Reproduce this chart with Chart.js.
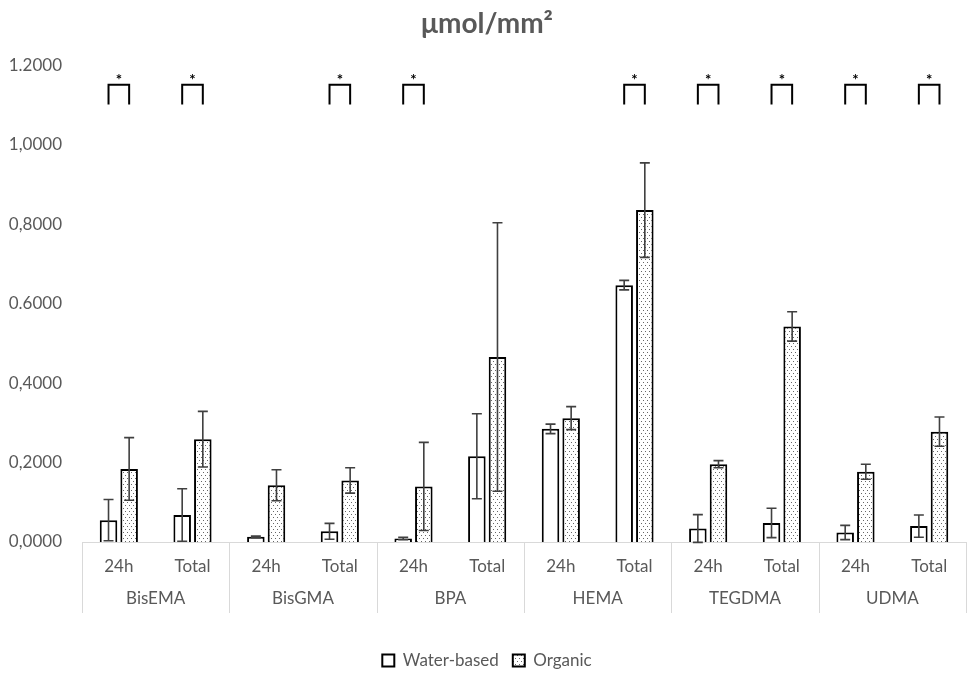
<!DOCTYPE html>
<html>
<head>
<meta charset="utf-8">
<script src="https://cdn.jsdelivr.net/npm/chart.js@4"></script>
<style>
  html, body { margin: 0; padding: 0; background: #fff; }
  #wrap { width: 969px; height: 673px; position: relative; }
</style>
</head>
<body>
<div id="wrap"><canvas id="chart"></canvas></div>
<script>
const categories = ['24h', 'Total', '24h', 'Total', '24h', 'Total', '24h', 'Total', '24h', 'Total', '24h', 'Total'];
const groups = ['BisEMA', 'BisGMA', 'BPA', 'HEMA', 'TEGDMA', 'UDMA'];
const tickLabels = ['0,0000', '0,2000', '0,4000', '0.6000', '0,8000', '1,0000', '1.2000'];

const waterValues = [0.055, 0.068, 0.013, 0.027, 0.009, 0.216, 0.285, 0.647, 0.034, 0.048, 0.024, 0.040];
const waterErrors = [0.052, 0.066, 0.002, 0.020, 0.003, 0.107, 0.012, 0.012, 0.035, 0.037, 0.018, 0.028];
const organicValues = [0.184, 0.259, 0.143, 0.155, 0.140, 0.466, 0.312, 0.836, 0.196, 0.543, 0.177, 0.278];
const organicErrors = [0.079, 0.070, 0.039, 0.032, 0.111, 0.338, 0.029, 0.119, 0.009, 0.037, 0.019, 0.037];
const significant = [true, true, false, true, true, false, false, true, true, true, true, true];

const textColor = '#595959';
const fontFamily = 'Lato, "Open Sans", sans-serif';

// dotted fill like the Excel pattern
function dotPattern() {
    const c = document.createElement('canvas');
    c.width = 4; c.height = 6;
    const g = c.getContext('2d');
    g.fillStyle = '#fff';
    g.fillRect(0, 0, 4, 6);
    g.fillStyle = '#666';
    g.fillRect(1, 1, 1, 1);
    g.fillRect(3, 4, 1, 1);
    return g.createPattern(c, 'repeat');
}

const errorBars = {
    id: 'errorBars',
    afterDatasetsDraw(chart) {
        const ctx = chart.ctx;
        const y = chart.scales.y;
        ctx.save();
        ctx.strokeStyle = '#404040';
        ctx.lineWidth = 1.6;
        chart.data.datasets.forEach((ds, di) => {
            const meta = chart.getDatasetMeta(di);
            meta.data.forEach((bar, i) => {
                const v = ds.data[i], e = ds.errors[i];
                const top = y.getPixelForValue(v + e);
                const bot = y.getPixelForValue(v - e);
                ctx.beginPath();
                ctx.moveTo(bar.x, top); ctx.lineTo(bar.x, bot);
                ctx.moveTo(bar.x - 5, top); ctx.lineTo(bar.x + 5, top);
                ctx.moveTo(bar.x - 5, bot); ctx.lineTo(bar.x + 5, bot);
                ctx.stroke();
            });
        });
        ctx.restore();
    }
};

const brackets = {
    id: 'brackets',
    afterDatasetsDraw(chart) {
        const ctx = chart.ctx;
        const y = chart.scales.y;
        const a = chart.getDatasetMeta(0).data;
        const b = chart.getDatasetMeta(1).data;
        const yTop = y.getPixelForValue(1.152);
        const yBot = y.getPixelForValue(1.102);
        const yStar = y.getPixelForValue(1.172);
        ctx.save();
        ctx.strokeStyle = '#000';
        ctx.lineWidth = 2;
        ctx.fillStyle = '#000';
        ctx.font = 'bold 15px ' + fontFamily;
        ctx.textAlign = 'center';
        ctx.textBaseline = 'middle';
        significant.forEach((s, i) => {
            if (!s) return;
            const x1 = a[i].x, x2 = b[i].x;
            ctx.beginPath();
            ctx.moveTo(x1, yBot); ctx.lineTo(x1, yTop);
            ctx.lineTo(x2, yTop); ctx.lineTo(x2, yBot);
            ctx.stroke();
            ctx.fillText('*', (x1 + x2) / 2, yStar + 3);
        });
        ctx.restore();
    }
};

// group separators of the two-level category axis
const separators = {
    id: 'separators',
    afterDraw(chart) {
        const ctx = chart.ctx;
        const x = chart.scales.x;
        const x2 = chart.scales.x2;
        const top = x.top;
        const bottom = x2.top + 37;
        const n = categories.length;
        ctx.save();
        ctx.strokeStyle = '#d9d9d9';
        ctx.lineWidth = 1;
        for (let i = 0; i <= n; i += 2) {
            let px;
            if (i === 0) px = x.left;
            else if (i === n) px = x.right;
            else px = (x.getPixelForTick(i - 1) + x.getPixelForTick(i)) / 2;
            px = Math.round(px) + 0.5;
            ctx.beginPath();
            ctx.moveTo(px, top);
            ctx.lineTo(px, bottom);
            ctx.stroke();
        }
        ctx.restore();
    }
};

new Chart(document.getElementById('chart').getContext('2d'), {
    type: 'bar',
    data: {
        labels: categories,
        datasets: [
            {
                label: 'Water-based',
                data: waterValues,
                errors: waterErrors,
                backgroundColor: '#fff',
                borderColor: '#000',
                borderWidth: 2
            },
            {
                label: 'Organic',
                data: organicValues,
                errors: organicErrors,
                backgroundColor: dotPattern(),
                borderColor: '#000',
                borderWidth: 2
            }
        ]
    },
    options: {
        responsive: true,
        maintainAspectRatio: false,
        animation: false,
        categoryPercentage: 0.56,
        barPercentage: 0.85,
        layout: { padding: { left: 8, right: 3, top: 0, bottom: -6 } },
        scales: {
            x: {
                weight: 0,
                grid: { display: false, drawTicks: false },
                border: { color: '#d9d9d9' },
                ticks: {
                    padding: 14,
                    color: textColor,
                    font: { family: fontFamily, size: 17 },
                    maxRotation: 0,
                    autoSkip: false
                },
                afterFit: s => { s.height = 34; }
            },
            x2: {
                type: 'category',
                labels: groups,
                position: 'bottom',
                weight: 1,
                offset: true,
                grid: { display: false, drawTicks: false },
                border: { display: false },
                ticks: {
                    padding: 12,
                    color: textColor,
                    font: { family: fontFamily, size: 17 },
                    maxRotation: 0
                },
                afterFit: s => { s.height = 62; }
            },
            y: {
                min: 0,
                max: 1.2,
                grid: { display: false, drawTicks: false },
                border: { display: false },
                ticks: {
                    stepSize: 0.2,
                    padding: 20,
                    color: textColor,
                    font: { family: fontFamily, size: 17 },
                    callback: (v, i) => tickLabels[i]
                },
                afterFit: s => { s.width = 74; }
            }
        },
        plugins: {
            title: {
                display: true,
                text: 'μmol/mm²',
                color: textColor,
                font: { family: fontFamily, size: 28, weight: 'bold' },
                padding: { top: 7, bottom: 25 }
            },
            legend: {
                position: 'bottom',
                labels: {
                    color: textColor,
                    font: { family: fontFamily, size: 17 },
                    boxWidth: 12,
                    boxHeight: 12,
                    padding: 14
                }
            },
            tooltip: { enabled: false }
        }
    },
    plugins: [errorBars, brackets, separators]
});
</script>
</body>
</html>
